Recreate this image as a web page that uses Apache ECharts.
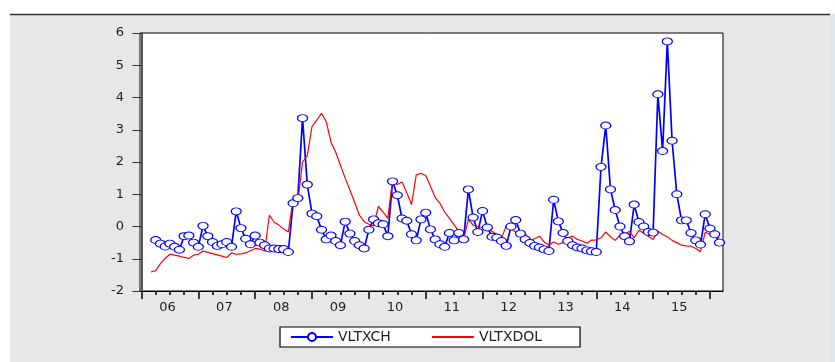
<!DOCTYPE html>
<html>
<head>
<meta charset="utf-8">
<script src="https://cdn.jsdelivr.net/npm/echarts@6.0.0/dist/echarts.min.js"></script>
<style>
  html, body { margin: 0; padding: 0; background: #fff; }
  #chart { width: 835px; height: 362px; }
</style>
</head>
<body>
<div id="chart"></div>
<script>
// monthly series, x counted in months from 2006M01
var xchStart = 3;   // VLTXCH starts 2006M04
var dolStart = 2;   // VLTXDOL starts 2006M03

var vltxch = [
  -0.42, -0.53, -0.62, -0.53, -0.63, -0.72, -0.30, -0.28, -0.50, -0.63,
   0.02, -0.30, -0.48, -0.60, -0.55, -0.48, -0.63,  0.47, -0.05, -0.38,
  -0.55, -0.28, -0.50, -0.58, -0.68, -0.68, -0.70, -0.70, -0.79,  0.72,
   0.88,  3.36,  1.30,  0.40,  0.32, -0.10, -0.40, -0.28, -0.45, -0.58,
   0.15, -0.22, -0.45, -0.58, -0.68, -0.10,  0.22,  0.10,  0.07, -0.30,
   1.40,  0.97,  0.25,  0.18, -0.24, -0.43,  0.22,  0.43, -0.09, -0.40,
  -0.55, -0.63, -0.20, -0.43, -0.20, -0.40,  1.15,  0.28, -0.17,  0.48,
  -0.03, -0.32, -0.34, -0.45, -0.60,  0.00,  0.20, -0.22, -0.40, -0.51,
  -0.60, -0.65, -0.71, -0.76,  0.83,  0.16, -0.20, -0.45, -0.58, -0.65,
  -0.68, -0.74, -0.77, -0.79,  1.85,  3.13,  1.15,  0.51,  0.00, -0.30,
  -0.46,  0.68,  0.14,  0.00, -0.17, -0.19,  4.10,  2.34,  5.74,  2.66,
   1.00,  0.19,  0.19, -0.20, -0.43, -0.56,  0.38, -0.06, -0.24, -0.50
];

var vltxdol = [
  -1.41,
  -1.37, -1.15, -0.99, -0.86, -0.89, -0.92, -0.96, -0.99, -0.89, -0.86,
  -0.76, -0.80, -0.84, -0.88, -0.92, -0.96, -0.82, -0.86, -0.85, -0.82,
  -0.75, -0.68, -0.70, -0.76,  0.35,  0.14,  0.05, -0.08, -0.17,  0.85,
   0.75,  2.00,  2.20,  3.10,  3.30,  3.51,  3.25,  2.62,  2.30,  1.90,
   1.50,  1.13,  0.75,  0.35,  0.15,  0.07,  0.02,  0.62,  0.45,  0.25,
   1.45,  1.30,  1.38,  1.05,  0.68,  1.60,  1.65,  1.58,  1.25,  0.90,
   0.72,  0.45,  0.25,  0.05, -0.15, -0.40,  0.22,  0.04,  0.00, -0.03,
  -0.08, -0.15, -0.25, -0.36,  0.02, -0.08, -0.17, -0.27, -0.22, -0.43,
  -0.38, -0.30, -0.48, -0.57, -0.48, -0.55, -0.50, -0.35, -0.30, -0.40,
  -0.45, -0.52, -0.42, -0.42, -0.35, -0.17, -0.32, -0.43, -0.27, -0.24,
  -0.15, -0.35, -0.12, -0.20, -0.30, -0.40, -0.15, -0.25, -0.32, -0.43,
  -0.50, -0.58, -0.60, -0.61, -0.68, -0.78, -0.18, -0.24, -0.30, -0.36
];

var yearLabels = ['06', '07', '08', '09', '10', '11', '12', '13', '14', '15'];

// year ticks in january, quarter ticks between, labels mid-year
var yearTicks = [], quarterTicks = [], labelPos = [];
for (var y = 0; y <= yearLabels.length; y++) {
  yearTicks.push(y * 12);
  if (y < yearLabels.length) {
    quarterTicks.push(y * 12 + 3, y * 12 + 6, y * 12 + 9);
    labelPos.push(y * 12 + 5.5);
  }
}

function toPairs(values, start) {
  var out = [];
  for (var i = 0; i < values.length; i++) out.push([start + i, values[i]]);
  return out;
}

var font = 'DejaVu Sans, Liberation Sans, sans-serif';
var chart = echarts.init(document.getElementById('chart'));

chart.setOption({
  animation: false,
  backgroundColor: '#ffffff',
  graphic: [
    { type: 'rect', z: -10, shape: { x: 10, y: 14, width: 820, height: 348 }, style: { fill: '#e7e7e7' } },
    { type: 'rect', z: -10, shape: { x: 830, y: 14, width: 5, height: 348 }, style: { fill: '#dfe5ec' } },
    { type: 'line', z: -9, shape: { x1: 10, y1: 14.5, x2: 830, y2: 14.5 }, style: { stroke: '#333', lineWidth: 1.5 } }
  ],
  grid: {
    left: 140, top: 33, right: 112, bottom: 71,
    show: true, backgroundColor: '#ffffff', borderColor: '#000', borderWidth: 1
  },
  legend: {
    left: 280, top: 327,
    padding: [3, 38, 3, 10],
    itemWidth: 42, itemHeight: 10, itemGap: 40,
    backgroundColor: '#ffffff', borderColor: '#000', borderWidth: 1.2, borderRadius: 0,
    textStyle: { fontFamily: font, fontSize: 14, color: '#222' },
    data: [
      { name: 'VLTXCH' },
      { name: 'VLTXDOL', itemStyle: { color: 'rgba(0,0,0,0)', borderWidth: 0 } }
    ]
  },
  xAxis: [{
    type: 'value', min: -0.31, max: 122.75,
    axisLine: { show: true, onZero: false, lineStyle: { color: '#000', width: 1 } },
    axisTick: { show: true, customValues: yearTicks, length: 8, lineStyle: { color: '#000', width: 1.5 } },
    axisLabel: {
      customValues: labelPos, margin: 10, fontFamily: font, fontSize: 13, color: '#222',
      formatter: function (v) { return yearLabels[Math.floor(v / 12)]; }
    },
    splitLine: { show: false }
  }, {
    type: 'value', min: -0.31, max: 122.75, position: 'bottom',
    axisLine: { show: false, onZero: false },
    axisTick: { show: true, customValues: quarterTicks, length: 4, lineStyle: { color: '#000', width: 1.5 } },
    axisLabel: { show: false },
    splitLine: { show: false }
  }],
  yAxis: {
    type: 'value', min: -2, max: 6, interval: 1,
    axisLine: { show: true, lineStyle: { color: '#555', width: 2 } },
    axisTick: { show: true, length: 9, lineStyle: { color: '#333', width: 1 } },
    axisLabel: { margin: 16, fontFamily: font, fontSize: 13, color: '#222' },
    splitLine: { show: false }
  },
  series: [{
    name: 'VLTXCH', type: 'line',
    data: toPairs(vltxch, xchStart),
    symbol: 'circle', symbolSize: [10, 7], showAllSymbol: true,
    lineStyle: { color: '#0000ff', width: 1.7 },
    itemStyle: { color: '#ffffff', borderColor: '#0000ff', borderWidth: 1.1 }
  }, {
    name: 'VLTXDOL', type: 'line',
    data: toPairs(vltxdol, dolStart),
    showSymbol: false, symbol: 'none',
    lineStyle: { color: '#ff0000', width: 1.2 },
    itemStyle: { color: '#ff0000' }
  }]
});
</script>
</body>
</html>
